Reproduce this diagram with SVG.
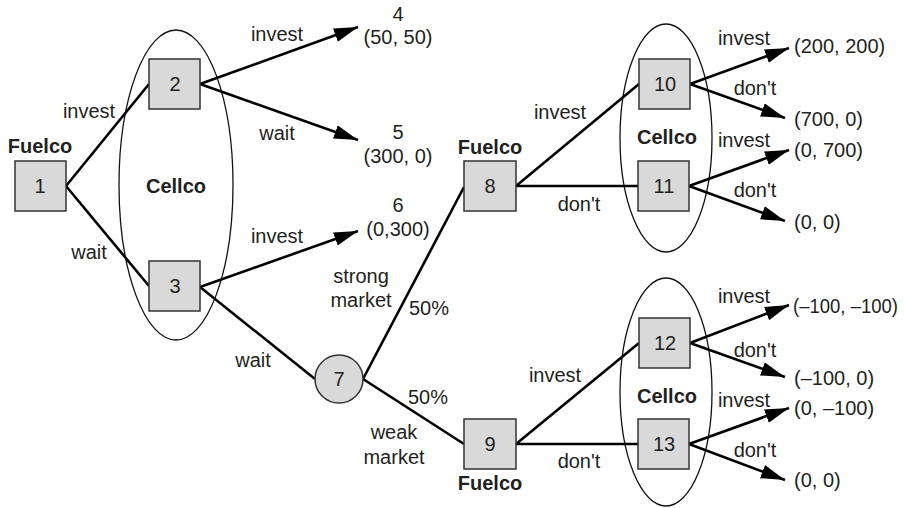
<svg xmlns="http://www.w3.org/2000/svg" width="905" height="508" viewBox="0 0 905 508">
<style>
text{font-family:"Liberation Sans",Arial,Helvetica,sans-serif;font-size:20px;fill:#231f20}
.b{font-weight:bold}
.m{text-anchor:middle}
.box{fill:#d9d9d9;stroke:#333;stroke-width:1.5}
.ell{fill:none;stroke:#111;stroke-width:1.3}
.c path{fill:none;stroke:#000;stroke-width:2.6}
.a{marker-end:url(#ah)}
</style>
<defs>
<marker id="ah" markerUnits="userSpaceOnUse" markerWidth="26" markerHeight="16" refX="24" refY="7" orient="auto">
<path d="M0,0 L24,7 L0,14 Z" fill="#000"/>
</marker>
</defs>
<g id="infosets">
<ellipse class="ell" cx="176" cy="185" rx="57" ry="155"/>
<ellipse class="ell" cx="666" cy="138" rx="46" ry="114"/>
<ellipse class="ell" cx="666" cy="392" rx="46" ry="114"/>
<text class="b m" x="176" y="193">Cellco</text>
<text class="b m" x="667" y="144">Cellco</text>
<text class="b m" x="667" y="403">Cellco</text>
</g>
<g id="connectors" class="c">
<path d="M66,186 L149,84"/>
<path d="M66,186 L149,286"/>
<path class="a" d="M200,84 L358,27"/>
<path class="a" d="M200,84 L358,140"/>
<path class="a" d="M200,287 L358,231"/>
<path d="M200,287 L315,379"/>
<path d="M363,379 L464,187"/>
<path d="M363,379 L464,444"/>
<path d="M516,186 L639,84"/>
<path d="M516,186 L638,186"/>
<path d="M516,444 L639,343"/>
<path d="M516,444 L638,444"/>
<path class="a" d="M690,84 L789,48"/>
<path class="a" d="M690,84 L785,118"/>
<path class="a" d="M689,186 L789,150"/>
<path class="a" d="M689,186 L785,221"/>
<path class="a" d="M690,343 L789,305"/>
<path class="a" d="M690,343 L785,377"/>
<path class="a" d="M689,444 L789,408"/>
<path class="a" d="M689,444 L785,480"/>
</g>
<g id="edge-labels">
<text class="m" x="89" y="118">invest</text>
<text class="m" x="89" y="259">wait</text>
<text class="m" x="277" y="41">invest</text>
<text class="m" x="277" y="140">wait</text>
<text class="m" x="277" y="243">invest</text>
<text class="m" x="253" y="367">wait</text>
<text class="m" x="361" y="283">strong</text>
<text class="m" x="361" y="307">market</text>
<text class="m" x="429" y="315">50%</text>
<text class="m" x="428" y="404">50%</text>
<text class="m" x="394" y="439">weak</text>
<text class="m" x="394" y="464">market</text>
<text class="m" x="560" y="119">invest</text>
<text class="m" x="579" y="211">don't</text>
<text class="m" x="555" y="382">invest</text>
<text class="m" x="579" y="468">don't</text>
<text class="m" x="744" y="45">invest</text>
<text class="m" x="755" y="95">don't</text>
<text class="m" x="744" y="147">invest</text>
<text class="m" x="755" y="197">don't</text>
<text class="m" x="744" y="303">invest</text>
<text class="m" x="755" y="357">don't</text>
<text class="m" x="744" y="407">invest</text>
<text class="m" x="755" y="457">don't</text>
</g>
<g id="n1"><rect class="box" x="15" y="161" width="51" height="50"/><text class="m" x="40" y="193">1</text><text class="b m" x="40" y="153">Fuelco</text></g>
<g id="n2"><rect class="box" x="149" y="59" width="51" height="50"/><text class="m" x="175" y="91">2</text></g>
<g id="n3"><rect class="box" x="149" y="261" width="51" height="50"/><text class="m" x="175" y="293">3</text></g>
<g id="n4"><text class="m" x="398" y="21">4</text><text class="m" x="398" y="44">(50, 50)</text></g>
<g id="n5"><text class="m" x="398" y="139">5</text><text class="m" x="398" y="163">(300, 0)</text></g>
<g id="n6"><text class="m" x="398" y="212">6</text><text class="m" x="398" y="236">(0,300)</text></g>
<g id="n7"><circle cx="339" cy="379" r="24" fill="#d9d9d9" stroke="#333" stroke-width="1.5"/><text class="m" x="339" y="386">7</text></g>
<g id="n8"><rect class="box" x="464" y="161" width="52" height="50"/><text class="m" x="490" y="193">8</text><text class="b m" x="490" y="154">Fuelco</text></g>
<g id="n9"><rect class="box" x="464" y="419" width="52" height="50"/><text class="m" x="490" y="451">9</text><text class="b m" x="490" y="490">Fuelco</text></g>
<g id="n10"><rect class="box" x="639" y="59" width="51" height="50"/><text class="m" x="665" y="91">10</text></g>
<g id="n11"><rect class="box" x="638" y="161" width="51" height="50"/><text class="m" x="664" y="193">11</text></g>
<g id="n12"><rect class="box" x="639" y="318" width="51" height="50"/><text class="m" x="665" y="350">12</text></g>
<g id="n13"><rect class="box" x="638" y="419" width="51" height="50"/><text class="m" x="664" y="451">13</text></g>
<g id="payoffs">
<text x="794" y="53">(200, 200)</text>
<text x="794" y="126">(700, 0)</text>
<text x="794" y="157">(0, 700)</text>
<text x="794" y="229">(0, 0)</text>
<text x="793" y="313" textLength="105" lengthAdjust="spacingAndGlyphs">(–100, –100)</text>
<text x="794" y="385">(–100, 0)</text>
<text x="794" y="415">(0, –100)</text>
<text x="794" y="487">(0, 0)</text>
</g>
</svg>
